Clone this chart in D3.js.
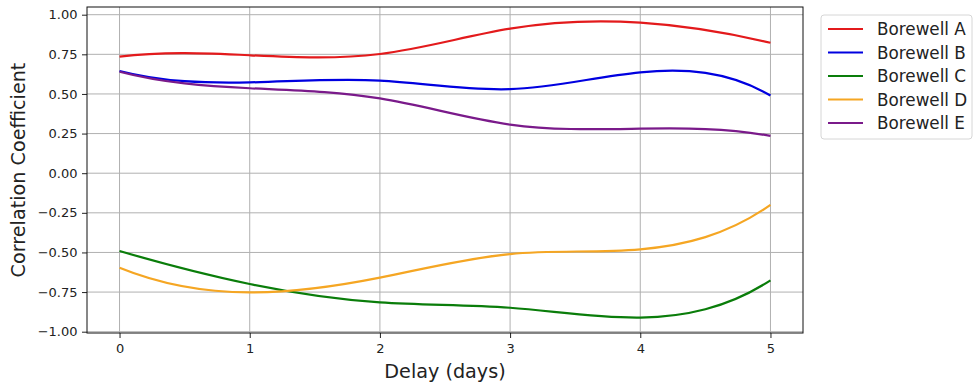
<!DOCTYPE html>
<html><head><meta charset="utf-8">
<script src="https://cdn.jsdelivr.net/npm/d3@7"></script>
<style>body{margin:0;background:#fff}svg{display:block;font-family:"DejaVu Sans",sans-serif}</style>
</head><body><svg id="c" width="974" height="384"></svg>
<script>
const delays = [0, 1, 2, 3, 4, 5];
const seriesNames = ["Borewell A", "Borewell B", "Borewell C", "Borewell D", "Borewell E"];
const borewellA = [0.735, 0.744, 0.752, 0.912, 0.950, 0.823];
const borewellB = [0.645, 0.573, 0.584, 0.530, 0.636, 0.490];
const borewellC = [-0.491, -0.699, -0.815, -0.849, -0.911, -0.676];
const borewellD = [-0.596, -0.752, -0.659, -0.510, -0.480, -0.200];
const borewellE = [0.640, 0.536, 0.472, 0.307, 0.281, 0.235];
const colors = ["#e31a1c", "#0000e0", "#0a7d0a", "#f5a623", "#7a1a8a"];
const yTicks = [-1.00, -0.75, -0.50, -0.25, 0.00, 0.25, 0.50, 0.75, 1.00];
const xTicks = [0, 1, 2, 3, 4, 5];

const allSeries = [borewellA, borewellB, borewellC, borewellD, borewellE];

// not-a-knot cubic spline curve
function curveNotAKnot(context) {
  let xs = [], ys = [];
  return {
    areaStart(){}, areaEnd(){},
    lineStart(){ xs = []; ys = []; },
    point(x, y){ xs.push(+x); ys.push(+y); },
    lineEnd(){
      const n = xs.length;
      if (!n) return;
      context.moveTo(xs[0], ys[0]);
      if (n < 4) { for (let i = 1; i < n; i++) context.lineTo(xs[i], ys[i]); return; }
      const d = []; for (let i = 0; i < n - 1; i++) d.push((ys[i+1] - ys[i]) / (xs[i+1] - xs[i]));
      const A = [], b = [];
      for (let i = 0; i < n; i++) { A.push(new Array(n).fill(0)); b.push(0); }
      A[0][0] = 1; A[0][2] = -1; b[0] = 2 * (d[0] - d[1]);
      for (let i = 1; i < n - 1; i++) { A[i][i-1] = 1; A[i][i] = 4; A[i][i+1] = 1; b[i] = 3 * (d[i-1] + d[i]); }
      A[n-1][n-3] = 1; A[n-1][n-1] = -1; b[n-1] = 2 * (d[n-3] - d[n-2]);
      for (let c = 0; c < n; c++) {
        let p = c; for (let r = c + 1; r < n; r++) if (Math.abs(A[r][c]) > Math.abs(A[p][c])) p = r;
        [A[c], A[p]] = [A[p], A[c]]; [b[c], b[p]] = [b[p], b[c]];
        for (let r = c + 1; r < n; r++) {
          const f = A[r][c] / A[c][c];
          for (let k = c; k < n; k++) A[r][k] -= f * A[c][k];
          b[r] -= f * b[c];
        }
      }
      const m = new Array(n).fill(0);
      for (let r = n - 1; r >= 0; r--) {
        let s = b[r]; for (let k = r + 1; k < n; k++) s -= A[r][k] * m[k];
        m[r] = s / A[r][r];
      }
      for (let i = 0; i < n - 1; i++) {
        const hh = xs[i+1] - xs[i];
        context.bezierCurveTo(xs[i] + hh/3, ys[i] + m[i]*hh/3, xs[i+1] - hh/3, ys[i+1] - m[i+1]*hh/3, xs[i+1], ys[i+1]);
      }
    }
  };
}

const svg = d3.select("#c");
const L = 87, R = 803, T = 7, B = 333;
const x = d3.scaleLinear().domain([-0.25, 5.25]).range([L, R]);
const y = d3.scaleLinear().domain([-1.0, 1.0]).range([331.7, 14.7]);

const g = svg.append("g");
g.selectAll(".gx").data(xTicks).join("line")
  .attr("x1", d => x(d)).attr("x2", d => x(d)).attr("y1", T).attr("y2", B)
  .attr("stroke", "#b0b0b0").attr("stroke-width", 1);
g.selectAll(".gy").data(yTicks).join("line")
  .attr("y1", d => y(d)).attr("y2", d => y(d)).attr("x1", L).attr("x2", R)
  .attr("stroke", "#b0b0b0").attr("stroke-width", 1);

const line = d3.line().x((d, i) => x(delays[i])).y(d => y(d)).curve(curveNotAKnot);
svg.append("g").selectAll("path").data(allSeries).join("path")
  .attr("d", d => line(d)).attr("fill", "none")
  .attr("stroke", (d, i) => colors[i]).attr("stroke-width", 2.2);

const xAxis = d3.axisBottom(x).tickValues(xTicks).tickFormat(d3.format("d")).tickSizeOuter(0).tickSize(5).tickPadding(5.5);
const yAxis = d3.axisLeft(y).tickValues(yTicks).tickFormat(d => d3.format(".2f")(d).replace("-", "\u2212")).tickSizeOuter(0).tickSize(5).tickPadding(4.5);
const gx = svg.append("g").attr("transform", `translate(0,${B})`).call(xAxis);
const gy = svg.append("g").attr("transform", `translate(${L},0)`).call(yAxis);
[gx, gy].forEach(a => {
  a.select(".domain").remove();
  a.selectAll("text").attr("font-size", 13).attr("fill", "#222").attr("font-family", "DejaVu Sans");
  a.selectAll("line").attr("stroke", "#222");
});
svg.append("rect").attr("x", L).attr("y", T).attr("width", R - L).attr("height", B - T)
  .attr("fill", "none").attr("stroke", "#111").attr("stroke-width", 1);

svg.append("text").attr("x", (L + R) / 2).attr("y", 378).attr("text-anchor", "middle")
  .attr("font-size", 19.2).attr("fill", "#222").text("Delay (days)");
svg.append("text").attr("transform", `translate(24.5,${(T + B) / 2}) rotate(-90)`).attr("text-anchor", "middle")
  .attr("font-size", 19.2).attr("fill", "#222").text("Correlation Coefficient");

const lg = svg.append("g");
lg.append("rect").attr("x", 821).attr("y", 15).attr("width", 151).attr("height", 124).attr("rx", 3)
  .attr("fill", "#fff").attr("stroke", "#d6d6d6");
seriesNames.forEach((n, i) => {
  const yy = 29 + i * 23.5;
  lg.append("line").attr("x1", 828).attr("x2", 863).attr("y1", yy).attr("y2", yy)
    .attr("stroke", colors[i]).attr("stroke-width", 2.2);
  lg.append("text").attr("x", 877).attr("y", yy + 6.3).attr("font-size", 16.8).attr("fill", "#222").text(n);
});
</script></body></html>
